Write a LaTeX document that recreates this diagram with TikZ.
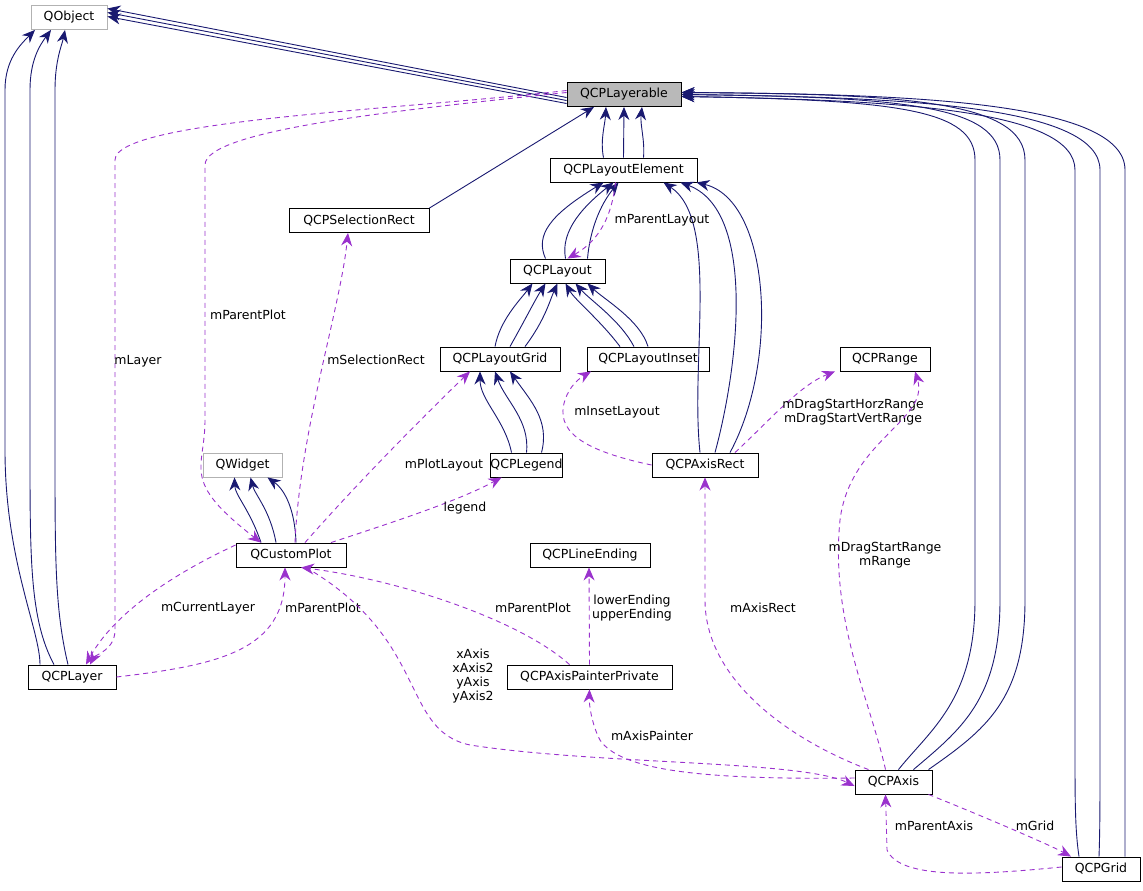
\documentclass[tikz,border=0pt]{standalone}
\usepackage{fontspec}
\setmainfont{DejaVu Sans}
\usetikzlibrary{arrows.meta}
\definecolor{navy}{HTML}{191970}
\definecolor{dpur}{HTML}{9A32CD}
\begin{document}
\begin{tikzpicture}[x=1pt,y=-1pt,
 box/.style={draw=black,line width=0.9pt,fill=white,inner sep=0pt,minimum height=24pt,font=\fontsize{12.5}{14}\selectfont},
 gbox/.style={box,draw=gray!60},
 inh/.style={draw=navy,line width=0.9pt,-{Stealth[length=13pt,width=11pt]}},
 use/.style={draw=dpur,line width=0.9pt,dashed,dash pattern=on 5pt off 4pt,-{Stealth[length=13pt,width=11pt]}},
 lab/.style={font=\fontsize{12.5}{14}\selectfont,align=center,inner sep=1pt}]
\useasboundingbox (0,0) rectangle (1143,891);
\node[gbox,minimum width=76pt] (QObject) at (69,17.5) {QObject};
\node[box,fill=gray!55,minimum width=114pt] (QCPLayerable) at (624,94.5) {QCPLayerable};
\node[box,minimum width=147pt] (QCPLayoutElement) at (623.5,170) {QCPLayoutElement};
\node[box,minimum width=140pt] (QCPSelectionRect) at (359,220.5) {QCPSelectionRect};
\node[box,minimum width=95pt] (QCPLayout) at (557.5,271) {QCPLayout};
\node[box,minimum width=120pt] (QCPLayoutGrid) at (500,359) {QCPLayoutGrid};
\node[box,minimum width=122pt] (QCPLayoutInset) at (648,359) {QCPLayoutInset};
\node[box,minimum width=90pt] (QCPRange) at (885,359) {QCPRange};
\node[gbox,minimum width=79pt] (QWidget) at (242.5,465) {QWidget};
\node[box,minimum width=69pt] (QCPLegend) at (526.5,465) {QCPLegend};
\node[box,minimum width=106pt] (QCPAxisRect) at (705,465) {QCPAxisRect};
\node[box,minimum width=110pt] (QCustomPlot) at (291,555) {QCustomPlot};
\node[box,minimum width=120pt] (QCPLineEnding) at (590,555) {QCPLineEnding};
\node[box,minimum width=88pt] (QCPLayer) at (72,677) {QCPLayer};
\node[box,minimum width=165pt] (QCPAxisPainterPrivate) at (589.5,677) {QCPAxisPainterPrivate};
\node[box,minimum width=77pt] (QCPAxis) at (893.5,782) {QCPAxis};
\node[box,minimum width=78pt] (QCPGrid) at (1101,869) {QCPGrid};

% inheritance
\foreach \k/\j in {-9/1,-6/5,-3/9}{
 \draw[inh] ([yshift=\k pt]QCPLayerable.west) -- ([yshift=\j pt]QObject.east);
}
\draw[inh] ([xshift=-32pt]QCPLayer.north) .. controls (40,630) and (5,560) .. (5,450) -- (5,90) .. controls (5,60) and (20,45) .. ([xshift=-34pt]QObject.south);
\draw[inh] ([xshift=-18pt]QCPLayer.north) .. controls (30,620) and (30,560) .. (30,450) -- (30,90) .. controls (30,60) and (40,45) .. ([xshift=-18pt]QObject.south);
\draw[inh] ([xshift=-4pt]QCPLayer.north) .. controls (55,610) and (55,560) .. (55,450) -- (55,90) .. controls (55,60) and (62,45) .. ([xshift=-4pt]QObject.south);
\draw[inh] ([xshift=-20pt]QCPLayoutElement.north) .. controls (600,140) and (605,125) .. ([xshift=-18pt]QCPLayerable.south);
\draw[inh] (QCPLayoutElement.north) -- (QCPLayerable.south);
\draw[inh] ([xshift=20pt]QCPLayoutElement.north) .. controls (645,140) and (640,125) .. ([xshift=18pt]QCPLayerable.south);
\draw[inh] (QCPSelectionRect.north east) -- ([xshift=-30pt]QCPLayerable.south);
\draw[inh] ([xshift=-12pt]QCPLayout.north) .. controls (535,235) and (550,215) .. ([xshift=-20pt]QCPLayoutElement.south);
\draw[inh] ([xshift=8pt]QCPLayout.north) .. controls (560,230) and (585,205) .. ([xshift=-10pt]QCPLayoutElement.south);
\draw[inh] ([xshift=30pt]QCPLayout.north) .. controls (590,230) and (600,205) .. ([xshift=-5pt]QCPLayoutElement.south);
\draw[inh] ([xshift=-5pt]QCPLayoutGrid.north) .. controls (500,320) and (520,300) .. ([xshift=-25pt]QCPLayout.south);
\draw[inh] ([xshift=10pt]QCPLayoutGrid.north) .. controls (525,320) and (535,300) .. ([xshift=-12pt]QCPLayout.south);
\draw[inh] ([xshift=25pt]QCPLayoutGrid.north) .. controls (545,320) and (550,300) .. ([xshift=0pt]QCPLayout.south);
\draw[inh] ([xshift=-28pt]QCPLayoutInset.north) .. controls (600,320) and (575,300) .. ([xshift=8pt]QCPLayout.south);
\draw[inh] ([xshift=-14pt]QCPLayoutInset.north) .. controls (620,320) and (590,300) .. ([xshift=18pt]QCPLayout.south);
\draw[inh] ([xshift=0pt]QCPLayoutInset.north) .. controls (640,320) and (605,300) .. ([xshift=30pt]QCPLayout.south);
\draw[inh] ([xshift=-15pt]QCPLegend.north) .. controls (505,420) and (480,400) .. ([xshift=-20pt]QCPLayoutGrid.south);
\draw[inh] ([xshift=0pt]QCPLegend.north) .. controls (530,420) and (505,400) .. ([xshift=-5pt]QCPLayoutGrid.south);
\draw[inh] ([xshift=15pt]QCPLegend.north) .. controls (550,420) and (530,400) .. ([xshift=10pt]QCPLayoutGrid.south);
\draw[inh] ([xshift=-5pt]QCPAxisRect.north) .. controls (690,360) and (720,220) .. ([xshift=40pt]QCPLayoutElement.south);
\draw[inh] ([xshift=10pt]QCPAxisRect.north) .. controls (740,360) and (755,210) .. ([xshift=57pt]QCPLayoutElement.south);
\draw[inh] ([xshift=25pt]QCPAxisRect.north) .. controls (780,360) and (770,200) .. ([xshift=73pt]QCPLayoutElement.south);
\draw[inh] ([xshift=-30pt]QCustomPlot.north) .. controls (250,510) and (235,495) .. ([xshift=-8pt]QWidget.south);
\draw[inh] ([xshift=-15pt]QCustomPlot.north) .. controls (270,510) and (255,495) .. ([xshift=8pt]QWidget.south);
\draw[inh] ([xshift=5pt]QCustomPlot.north) .. controls (295,510) and (285,490) .. ([xshift=25pt]QWidget.south);
\draw[inh] ([xshift=5pt]QCPAxis.north) .. controls (930,730) and (975,700) .. (975,600) -- (975,160) .. controls (975,110) and (900,100) .. ([yshift=-2pt]QCPLayerable.east);
\draw[inh] ([xshift=20pt]QCPAxis.north) .. controls (960,730) and (1000,700) .. (1000,600) -- (1000,160) .. controls (1000,105) and (900,97) .. ([yshift=0pt]QCPLayerable.east);
\draw[inh] ([xshift=35pt]QCPAxis.north) .. controls (985,730) and (1025,700) .. (1025,600) -- (1025,160) .. controls (1025,100) and (900,94) .. ([yshift=2pt]QCPLayerable.east);
\draw[inh] ([xshift=-22pt]QCPGrid.north) .. controls (1075,830) and (1075,800) .. (1075,750) -- (1075,170) .. controls (1075,110) and (900,100) .. ([yshift=-2pt]QCPLayerable.east);
\draw[inh] ([xshift=-2pt]QCPGrid.north) .. controls (1100,830) and (1100,800) .. (1100,750) -- (1100,170) .. controls (1100,105) and (900,97) .. ([yshift=0pt]QCPLayerable.east);
\draw[inh] ([xshift=24pt]QCPGrid.north) .. controls (1125,830) and (1125,800) .. (1125,750) -- (1125,170) .. controls (1125,100) and (900,94) .. ([yshift=2pt]QCPLayerable.east);

% usage
\draw[use] ([yshift=4pt]QCPLayerable.west) .. controls (400,110) and (115,120) .. (115,160) -- (115,630) .. controls (115,650) and (95,655) .. ([xshift=18pt]QCPLayer.north);
\node[lab] (l1) at (138,361) {mLayer};
\draw[use] ([yshift=2pt]QCPLayerable.west) .. controls (400,110) and (205,130) .. (205,165) -- (205,420) .. controls (205,470) and (180,480) .. ([xshift=-30pt]QCustomPlot.north);
\node[lab] (l2) at (248,315) {mParentPlot};
\draw[use] ([xshift=-8pt]QCPLayoutElement.south) .. controls (612,215) and (600,240) .. ([xshift=10pt]QCPLayout.north);
\node[lab] (l3) at (662,220) {mParentLayout};
\draw[use] ([xshift=4pt]QCustomPlot.north) .. controls (300,430) and (340,310) .. ([xshift=-11pt]QCPSelectionRect.south);
\node[lab] (l4) at (376,360) {mSelectionRect};
\draw[use] ([xshift=14pt]QCustomPlot.north) .. controls (360,480) and (430,410) .. ([xshift=-30pt]QCPLayoutGrid.south);
\node[lab] (l5) at (444,465) {mPlotLayout};
\draw[use] ([xshift=40pt]QCustomPlot.north) .. controls (400,520) and (460,500) .. ([xshift=-25pt]QCPLegend.south);
\node[lab] (l6) at (465,508) {legend};
\draw[use] (QCPAxisRect.west) .. controls (580,450) and (555,430) .. (565,400) .. controls (570,385) and (580,378) .. ([xshift=-57pt]QCPLayoutInset.south);
\node[lab] (l7) at (617,412) {mInsetLayout};
\draw[use] ([xshift=30pt]QCPAxisRect.north) .. controls (770,420) and (800,385) .. ([xshift=-50pt]QCPRange.south);
\node[lab] (l8) at (853,412) {mDragStartHorzRange\\mDragStartVertRange};
\draw[use] ([xshift=-8pt]QCPAxis.north) .. controls (870,700) and (830,620) .. (840,520) .. controls (850,440) and (930,420) .. ([xshift=30pt]QCPRange.south);
\node[lab] (l9) at (885,555) {mDragStartRange\\mRange};
\draw[use] ([xshift=-25pt]QCPAxis.north) .. controls (790,740) and (705,680) .. (705,600) -- (QCPAxisRect.south);
\node[lab] (l10) at (763,608) {mAxisRect};
\draw[use] (QCPLayer.east) .. controls (220,665) and (285,650) .. ([xshift=-6pt]QCustomPlot.south);
\node[lab] (l11) at (323,608) {mParentPlot};
\draw[use] ([yshift=10pt]QCustomPlot.west) .. controls (160,580) and (110,620) .. ([xshift=14pt]QCPLayer.north);
\node[lab] (l12) at (208,608) {mCurrentLayer};
\draw[use] ([xshift=-20pt]QCPAxisPainterPrivate.north) .. controls (520,620) and (400,580) .. ([xshift=10pt]QCustomPlot.south);
\node[lab] (l13) at (533,608) {mParentPlot};
\draw[use] (QCPAxisPainterPrivate.north) -- ([xshift=-1pt]QCPLineEnding.south);
\node[lab] (l14) at (632,608) {lowerEnding\\upperEnding};
\draw[use] ([xshift=15pt]QCustomPlot.south) .. controls (430,640) and (400,730) .. (470,745) .. controls (600,765) and (800,760) .. ([yshift=-4pt]QCPAxis.west);
\node[lab] (l15) at (473,676) {xAxis\\xAxis2\\yAxis\\yAxis2};
\draw[use] ([yshift=4pt]QCPAxis.west) .. controls (700,780) and (620,770) .. (600,740) .. controls (592,725) and (589,705) .. (QCPAxisPainterPrivate.south);
\node[lab] (l16) at (652,736) {mAxisPainter};
\draw[use] ([yshift=2pt]QCPGrid.west) .. controls (980,875) and (900,880) .. (887,850) -- ([xshift=-8pt]QCPAxis.south);
\node[lab] (l17) at (934,826) {mParentAxis};
\draw[use] ([xshift=35pt]QCPAxis.south) .. controls (980,815) and (1050,845) .. ([xshift=-30pt]QCPGrid.north);
\node[lab] (l18) at (1035,826) {mGrid};
\end{tikzpicture}
\end{document}
